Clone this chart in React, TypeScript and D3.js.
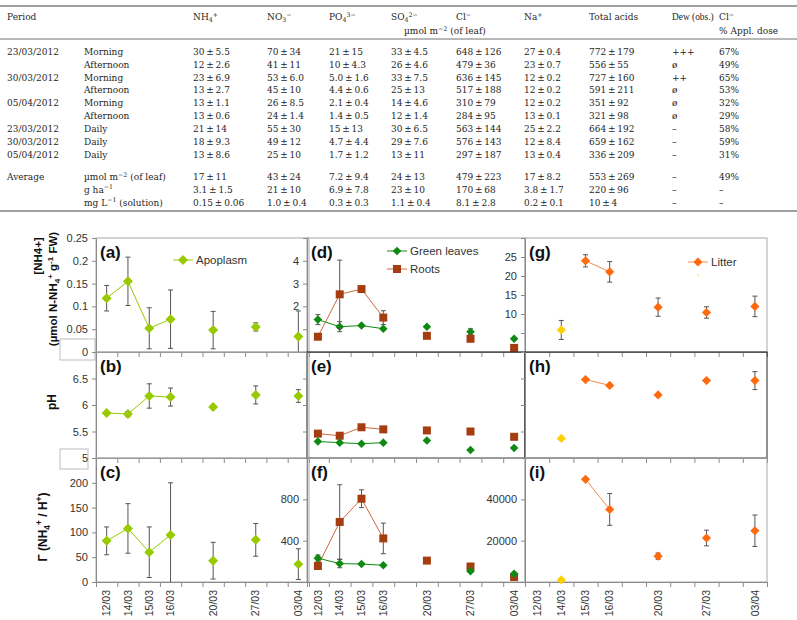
import { useEffect, useRef } from 'react'
import * as d3 from 'd3'

// ---------- table ----------
const tableHead = ['Period', '', 'NH_{4}^{+}', 'NO_{3}^{−}', 'PO_{4}^{3−}', 'SO_{4}^{2−}', 'Cl^{−}', 'Na^{+}', 'Total acids', 'Dew (obs.)', 'Cl^{−}']
const tableUnit = 'µmol m^{−2} (of leaf)'
const tableDose = '% Appl. dose'
const tableRows = [
  ['23/03/2012', 'Morning', '30 ± 5.5', '70 ± 34', '21 ± 15', '33 ± 4.5', '648 ± 126', '27 ± 0.4', '772 ± 179', '+++', '67%'],
  ['', 'Afternoon', '12 ± 2.6', '41 ± 11', '10 ± 4.3', '26 ± 4.6', '479 ± 36', '23 ± 0.7', '556 ± 55', 'ø', '49%'],
  ['30/03/2012', 'Morning', '23 ± 6.9', '53 ± 6.0', '5.0 ± 1.6', '33 ± 7.5', '636 ± 145', '12 ± 0.2', '727 ± 160', '++', '65%'],
  ['', 'Afternoon', '13 ± 2.7', '45 ± 10', '4.4 ± 0.6', '25 ± 13', '517 ± 188', '12 ± 0.2', '591 ± 211', 'ø', '53%'],
  ['05/04/2012', 'Morning', '13 ± 1.1', '26 ± 8.5', '2.1 ± 0.4', '14 ± 4.6', '310 ± 79', '12 ± 0.2', '351 ± 92', 'ø', '32%'],
  ['', 'Afternoon', '13 ± 0.6', '24 ± 1.4', '1.4 ± 0.5', '12 ± 1.4', '284 ± 95', '13 ± 0.1', '321 ± 98', 'ø', '29%'],
  ['23/03/2012', 'Daily', '21 ± 14', '55 ± 30', '15 ± 13', '30 ± 6.5', '563 ± 144', '25 ± 2.2', '664 ± 192', '–', '58%'],
  ['30/03/2012', 'Daily', '18 ± 9.3', '49 ± 12', '4.7 ± 4.4', '29 ± 7.6', '576 ± 143', '12 ± 8.4', '659 ± 162', '–', '59%'],
  ['05/04/2012', 'Daily', '13 ± 8.6', '25 ± 10', '1.7 ± 1.2', '13 ± 11', '297 ± 187', '13 ± 0.4', '336 ± 209', '–', '31%'],
  ['Average', 'µmol m^{−2} (of leaf)', '17 ± 11', '43 ± 24', '7.2 ± 9.4', '24 ± 13', '479 ± 223', '17 ± 8.2', '553 ± 269', '–', '49%'],
  ['', 'g ha^{−1}', '3.1 ± 1.5', '21 ± 10', '6.9 ± 7.8', '23 ± 10', '170 ± 68', '3.8 ± 1.7', '220 ± 96', '–', '–'],
  ['', 'mg L^{−1} (solution)', '0.15 ± 0.06', '1.0 ± 0.4', '0.3 ± 0.3', '1.1 ± 0.4', '8.1 ± 2.8', '0.2 ± 0.1', '10 ± 4', '–', '–'],
]

// ---------- chart data ----------
const dates = ['12/03', '14/03', '15/03', '16/03', '', '20/03', '', '27/03', '', '03/04']

const apoNH4 = [0.118, 0.155, 0.052, 0.072, null, 0.048, null, 0.055, null, 0.034]
const apoNH4Err = [0.028, 0.053, 0.045, 0.064, null, 0.041, null, 0.009, null, 0.056]
const apoPH = [5.85, 5.83, 6.17, 6.15, null, 5.96, null, 6.19, null, 6.17]
const apoPHErr = [0, 0.05, 0.23, 0.17, null, 0, null, 0.17, null, 0.12]
const apoGamma = [83, 108, 60, 95, null, 43, null, 85, null, 36]
const apoGammaErr = [28, 50, 51, 105, null, 37, null, 33, null, 31]

const greenNH4 = [1.42, 1.11, 1.16, 1.02, null, 1.11, null, 0.89, null, 0.58]
const greenNH4Err = [0.22, 0.22, 0, 0, null, 0, null, 0.13, null, 0]
const rootsNH4 = [0.67, 2.53, 2.76, 1.51, null, 0.71, null, 0.58, null, 0.18]
const rootsNH4Err = [0, 1.5, 0, 0.3, null, 0, null, 0, null, 0]
const greenPH = [5.31, 5.29, 5.27, 5.29, null, 5.33, null, 5.15, null, 5.19]
const rootsPH = [5.46, 5.42, 5.58, 5.54, null, 5.52, null, 5.5, null, 5.4]
const rootsPHErr = [0, 0.04, 0, 0, null, 0, null, 0, null, 0]
const greenGamma = [231, 178, 174, 162, null, null, null, 105, null, 79]
const greenGammaErr = [30, 40, 0, 0, null, null, null, 0, null, 0]
const rootsGamma = [155, 581, 806, 422, null, 207, null, 150, null, 48]
const rootsGammaErr = [0, 360, 86, 148, null, 0, null, 0, null, 0]

const litterNH4 = [null, null, 24.0, 21.1, null, 11.8, null, 10.4, null, 12.0]
const litterNH4Err = [null, null, 1.6, 2.7, null, 2.4, null, 1.5, null, 2.7]
const freshNH4 = [null, 5.8, null, null, null, null, null, null, null, null]
const freshNH4Err = [null, 2.5, null, null, null, null, null, null, null, null]
const litterPH = [null, null, 6.48, 6.37, null, 6.19, null, 6.46, null, 6.46]
const litterPHErr = [null, null, 0, 0, null, 0, null, 0, null, 0.17]
const freshPH = [null, 5.37, null, null, null, null, null, null, null, null]
const litterGamma = [null, null, 49700, 35100, null, 12500, null, 21300, null, 24800]
const litterGammaErr = [null, null, 0, 7700, null, 1500, null, 3800, null, 7600]
const freshGamma = [null, 1000, null, null, null, null, null, null, null, null]

const C_APO = '#97ca00'
const C_GREEN = '#0e8a12'
const C_ROOT = '#a53d10'
const C_ROOT_LINE = '#cf6a3c'
const C_LITTER = '#ff6a0e'
const C_LITTER_LINE = '#f58a4c'
const C_FRESH = '#ffd000'

type Val = number | null
interface Series { values: Val[]; errs?: Val[]; fill: string; line: string; shape: 'diamond' | 'square'; r: number }

function rich(sel: any, str: string, fs: number) {
  let level = 0
  str.split(/(\^\{[^}]*\}|_\{[^}]*\})/).filter(Boolean).forEach(p => {
    let txt = p, target = 0, size = fs
    if (p.startsWith('^{')) { txt = p.slice(2, -1); target = -0.38 * fs; size = fs * 0.7 }
    else if (p.startsWith('_{')) { txt = p.slice(2, -1); target = 0.22 * fs; size = fs * 0.7 }
    sel.append('tspan').attr('dy', target - level).attr('font-size', size).text(txt)
    level = target
  })
}

function marker(shape: string, r: number) {
  if (shape === 'square') return `M${-r},${-r}H${r}V${r}H${-r}Z`
  return `M0,${-r}L${r},0L0,${r}L${-r},0Z`
}

export default function App() {
  const svgRef = useRef<SVGSVGElement>(null)

  useEffect(() => {
    if (!svgRef.current) return
    const svg = d3.select(svgRef.current)
    svg.selectAll('*').remove()

    // ---- table ----
    const colX = [7, 84, 193, 267, 329, 391, 456, 524, 589, 672, 719]
    const rowY = [52, 64.7, 77.4, 90.1, 102.8, 115.8, 128.8, 141.8, 154.8, 177, 189.6, 202.2]
    const fs = 9
    const tg = svg.append('g').attr('font-family', '"DejaVu Serif", serif').attr('fill', '#262626')

    svg.append('line').attr('x1', 0).attr('x2', 797).attr('y1', 6).attr('y2', 6).attr('stroke', '#111').attr('stroke-width', 0.8)
    svg.append('line').attr('x1', 0).attr('x2', 797).attr('y1', 39).attr('y2', 39).attr('stroke', '#111').attr('stroke-width', 0.6)
    svg.append('line').attr('x1', 0).attr('x2', 797).attr('y1', 211).attr('y2', 211).attr('stroke', '#111').attr('stroke-width', 0.8)

    tableHead.forEach((h, i) => {
      if (!h) return
      const t = tg.append('text').attr('x', colX[i]).attr('y', 20).attr('font-size', fs)
      // the dew header is set narrower in the original
      if (i === 9) t.attr('font-family', '"Liberation Serif", serif').attr('font-size', 9.4).text(h)
      else rich(t, h, fs)
    })
    rich(tg.append('text').attr('x', 404).attr('y', 34).attr('font-size', fs), tableUnit, fs)
    tg.append('text').attr('x', colX[10]).attr('y', 34).attr('font-size', fs).text(tableDose)

    tableRows.forEach((row, r) => {
      row.forEach((cell, i) => {
        if (!cell) return
        const t = tg.append('text').attr('x', colX[i]).attr('y', rowY[r] + 3.3).attr('font-size', fs)
        rich(t, cell.replace(' ± ', '\u2009±\u2009'), fs)
      })
    })

    // ---- charts ----
    const rows = [[238, 352], [352, 458], [458, 582]]
    const cols = [[96, 309], [307, 525], [525, 767]]
    const font = '"Liberation Sans", Arial, sans-serif'

    // leftover boxes of the original layout
    svg.append('rect').attr('x', 60).attr('y', 339).attr('width', 35).attr('height', 21).attr('fill', '#fff').attr('stroke', '#bdbdbd')
    svg.append('rect').attr('x', 60).attr('y', 449).attr('width', 28).attr('height', 20).attr('fill', '#fff').attr('stroke', '#bdbdbd')

    function panel(cfg: {
      col: number; row: number; domain: [number, number]; step: number; labels: number[]
      tag: string; frame: string; series: Series[]; showDates?: boolean
    }) {
      const [left, right] = cols[cfg.col]
      const [top, bottom] = rows[cfg.row]
      const g = svg.append('g').attr('font-family', font)

      g.append('rect').attr('x', left).attr('y', top).attr('width', right - left).attr('height', bottom - top)
        .attr('fill', 'none').attr('stroke', cfg.frame).attr('stroke-width', 1)

      const x = d3.scaleBand<number>().domain(d3.range(dates.length)).range([left, right])
      const xEdge = d3.scaleLinear().domain([0, dates.length]).range([left, right])
      const y = d3.scaleLinear().domain(cfg.domain).range([bottom, top])

      const tickVals = d3.range(cfg.domain[0], cfg.domain[1] + cfg.step / 2, cfg.step).map(v => +v.toFixed(4))
      const ya = g.append('g').attr('transform', `translate(${left},0)`)
        .call(d3.axisLeft(y).tickValues(tickVals).tickSize(4).tickSizeOuter(0).tickPadding(4)
          .tickFormat(v => cfg.labels.includes(+v) ? String(v) : ''))
      ya.selectAll('path,line').attr('stroke', '#8a8a8a')
      ya.selectAll('text').attr('font-family', font).attr('font-size', 11).attr('fill', '#333')

      const xa = g.append('g').attr('transform', `translate(0,${bottom})`)
        .call(d3.axisBottom(xEdge).tickValues(d3.range(dates.length + 1)).tickSize(5).tickSizeOuter(0).tickFormat(() => ''))
      xa.selectAll('path,line').attr('stroke', '#8a8a8a')

      if (cfg.showDates) {
        const xl = g.append('g').attr('transform', `translate(0,${bottom})`)
          .call(d3.axisBottom(x).tickSize(0).tickFormat(i => dates[i as number]))
        xl.select('.domain').remove()
        xl.selectAll('text').attr('transform', 'rotate(-90)').attr('text-anchor', 'end')
          .attr('x', -8).attr('y', 0).attr('dy', '.35em')
          .attr('font-family', font).attr('font-size', 10.5).attr('fill', '#333')
      }

      g.append('text').attr('x', left + 4).attr('y', top + 20)
        .attr('font-size', 17).attr('font-weight', 'bold').attr('fill', '#111').text(cfg.tag)

      const cx = (i: number) => (x(i) || 0) + x.bandwidth() / 2
      cfg.series.forEach(s => {
        const pts = s.values.map((v, i) => ({ v, i, e: s.errs ? s.errs[i] : null })).filter(d => d.v != null) as { v: number; i: number; e: Val }[]
        // error bars
        pts.filter(d => d.e).forEach(d => {
          const hi = Math.min(d.v + (d.e as number), cfg.domain[1])
          const lo = Math.max(d.v - (d.e as number), cfg.domain[0])
          const c = cx(d.i)
          g.append('line').attr('x1', c).attr('x2', c).attr('y1', y(hi)).attr('y2', y(lo)).attr('stroke', '#555').attr('stroke-width', 1)
          if (hi < cfg.domain[1]) g.append('line').attr('x1', c - 2.5).attr('x2', c + 2.5).attr('y1', y(hi)).attr('y2', y(hi)).attr('stroke', '#555')
          if (lo > cfg.domain[0]) g.append('line').attr('x1', c - 2.5).attr('x2', c + 2.5).attr('y1', y(lo)).attr('y2', y(lo)).attr('stroke', '#555')
        })
        const line = d3.line<Val>().defined(v => v != null).x((_, i) => cx(i)).y(v => y(v as number))
        g.append('path').datum(s.values).attr('d', line).attr('fill', 'none').attr('stroke', s.line).attr('stroke-width', 1)
        g.selectAll(null).data(pts).enter().append('path')
          .attr('transform', d => `translate(${cx(d.i)},${y(d.v)})`)
          .attr('d', marker(s.shape, s.r)).attr('fill', s.fill)
      })
      return g
    }

    const apo = (values: Val[], errs: Val[]): Series => ({ values, errs, fill: C_APO, line: C_APO, shape: 'diamond', r: 5 })
    const green = (values: Val[], errs?: Val[]): Series => ({ values, errs, fill: C_GREEN, line: C_GREEN, shape: 'diamond', r: 4.3 })
    const roots = (values: Val[], errs?: Val[]): Series => ({ values, errs, fill: C_ROOT, line: C_ROOT_LINE, shape: 'square', r: 4 })
    const litter = (values: Val[], errs?: Val[]): Series => ({ values, errs, fill: C_LITTER, line: C_LITTER_LINE, shape: 'diamond', r: 4.6 })
    const fresh = (values: Val[], errs?: Val[]): Series => ({ values, errs, fill: C_FRESH, line: C_FRESH, shape: 'diamond', r: 4.6 })

    const grey = '#a8a8a8'
    panel({ col: 0, row: 0, domain: [0, 0.25], step: 0.05, labels: [0, 0.05, 0.1, 0.15, 0.2, 0.25], tag: '(a)', frame: grey, series: [apo(apoNH4, apoNH4Err)] })
    panel({ col: 0, row: 1, domain: [5, 7], step: 0.5, labels: [5, 5.5, 6, 6.5], tag: '(b)', frame: grey, series: [apo(apoPH, apoPHErr)] })
    panel({ col: 0, row: 2, domain: [0, 250], step: 50, labels: [0, 50, 100, 150, 200], tag: '(c)', frame: grey, series: [apo(apoGamma, apoGammaErr)], showDates: true })

    panel({ col: 1, row: 0, domain: [0, 5], step: 1, labels: [2, 3, 4], tag: '(d)', frame: grey, series: [green(greenNH4, greenNH4Err), roots(rootsNH4, rootsNH4Err)] })
    panel({ col: 1, row: 1, domain: [5, 7], step: 0.5, labels: [], tag: '(e)', frame: '#222', series: [roots(rootsPH, rootsPHErr), green(greenPH)] })
    panel({ col: 1, row: 2, domain: [0, 1200], step: 400, labels: [400, 800], tag: '(f)', frame: grey, series: [roots(rootsGamma, rootsGammaErr), green(greenGamma, greenGammaErr)], showDates: true })

    panel({ col: 2, row: 0, domain: [0, 30], step: 5, labels: [10, 15, 20, 25], tag: '(g)', frame: grey, series: [litter(litterNH4, litterNH4Err), fresh(freshNH4, freshNH4Err)] })
    panel({ col: 2, row: 1, domain: [5, 7], step: 0.5, labels: [], tag: '(h)', frame: '#222', series: [litter(litterPH, litterPHErr), fresh(freshPH)] })
    panel({ col: 2, row: 2, domain: [0, 60000], step: 20000, labels: [20000, 40000], tag: '(i)', frame: grey, series: [litter(litterGamma, litterGammaErr), fresh(freshGamma)], showDates: true })

    // legends
    const lg = svg.append('g').attr('font-family', font).attr('font-size', 11.5).attr('fill', '#333')
    const legendItem = (x0: number, yy: number, s: Series, label: string) => {
      lg.append('line').attr('x1', x0).attr('x2', x0 + 20).attr('y1', yy).attr('y2', yy).attr('stroke', s.line)
      lg.append('path').attr('transform', `translate(${x0 + 10},${yy})`).attr('d', marker(s.shape, s.r)).attr('fill', s.fill)
      lg.append('text').attr('x', x0 + 23).attr('y', yy + 4).text(label)
    }
    legendItem(173, 260, apo([], []), 'Apoplasm')
    legendItem(387, 251, green([]), 'Green leaves')
    legendItem(387, 269, roots([]), 'Roots')
    legendItem(688, 262, litter([]), 'Litter')
    lg.append('circle').attr('cx', 698).attr('cy', 275).attr('r', 0.8).attr('fill', C_FRESH)

    // axis titles
    const at = svg.append('g').attr('font-family', font).attr('font-weight', 'bold').attr('fill', '#111').attr('text-anchor', 'middle')
    rich(at.append('text').attr('transform', 'translate(42,256) rotate(-90)').attr('font-size', 11.5), '[NH4+]', 11.5)
    rich(at.append('text').attr('transform', 'translate(57,289) rotate(-90)').attr('font-size', 11.5), '(µmol N-NH_{4}^{+} g^{-1} FW)', 11.5)
    at.append('text').attr('transform', 'translate(56,402) rotate(-90)').attr('font-size', 12).text('pH')
    rich(at.append('text').attr('transform', 'translate(47,527) rotate(-90)').attr('font-size', 12), 'Γ  (NH_{4}^{+} / H^{+})', 12)
  }, [])

  return (
    <div style={{ position: 'absolute', left: 0, top: 0 }}>
      <svg ref={svgRef} width={797} height={620} style={{ display: 'block', background: '#fff' }} />
    </div>
  )
}
